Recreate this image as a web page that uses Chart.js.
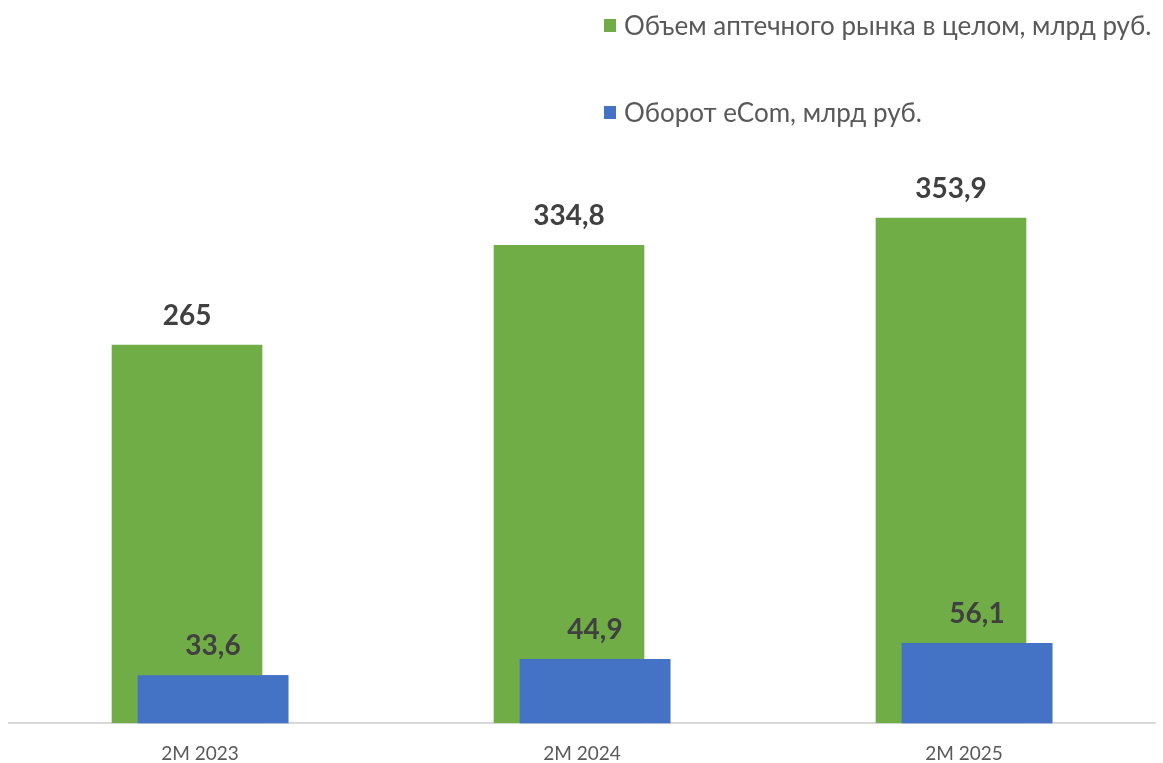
<!DOCTYPE html>
<html lang="ru">
<head>
<meta charset="utf-8">
<title>Аптечный рынок и eCom</title>
<script src="https://cdn.jsdelivr.net/npm/chart.js@4/dist/chart.umd.min.js"></script>
<style>
  html, body { margin: 0; padding: 0; background: #fff; }
  #wrap { position: relative; width: 1163px; height: 763px; }
  #legend { position: absolute; left: 604px; top: 8px; font-family: Lato, 'Open Sans', sans-serif; font-size: 26px; color: #595959; }
  .leg-item { display: flex; align-items: center; height: 34px; margin-bottom: 53px; white-space: nowrap; }
  .leg-box { width: 12px; height: 13px; margin-right: 8px; flex: none; }
</style>
</head>
<body>
<div id="wrap">
  <canvas id="chart" width="1163" height="763"></canvas>
  <div id="legend"></div>
</div>
<script>
const categories = ['2M 2023', '2M 2024', '2M 2025'];
const marketValues = [265, 334.8, 353.9];
const ecomValues = [33.6, 44.9, 56.1];
const seriesNames = ['Объем аптечного рынка в целом, млрд руб.', 'Оборот eCom, млрд руб.'];
const seriesColors = ['#70ad47', '#4472c4'];

const fmt = v => String(v).replace('.', ',');

// legend in two rows, top right
document.getElementById('legend').innerHTML = seriesNames.map((name, i) =>
  `<div class="leg-item"><span class="leg-box" style="background:${seriesColors[i]}"></span>${name}</div>`
).join('');

// eCom bars sit over the market bars: redraw them after the default pass
const ecomOnTop = {
  id: 'ecomOnTop',
  afterDatasetsDraw(chart) {
    const meta = chart.getDatasetMeta(1);
    if (meta.visible) meta.controller.draw();
  }
};

// bold value labels above each bar
const valueLabels = {
  id: 'valueLabels',
  afterDatasetsDraw(chart) {
    const ctx = chart.ctx;
    ctx.save();
    ctx.font = 'bold 28px Lato, "Open Sans", sans-serif';
    ctx.fillStyle = '#404040';
    ctx.textAlign = 'center';
    ctx.textBaseline = 'middle';
    chart.data.datasets.forEach((ds, di) => {
      chart.getDatasetMeta(di).data.forEach((bar, i) => {
        ctx.fillText(fmt(ds.data[i]), bar.x, bar.y - 29);
      });
    });
    ctx.restore();
  }
};

new Chart(document.getElementById('chart'), {
  type: 'bar',
  data: {
    labels: categories,
    datasets: [
      { label: seriesNames[0], data: marketValues, backgroundColor: seriesColors[0] },
      { label: seriesNames[1], data: ecomValues, backgroundColor: seriesColors[1] }
    ]
  },
  options: {
    responsive: false,
    animation: false,
    categoryPercentage: 0.136,
    barPercentage: 5.8,
    layout: { padding: { top: 152, left: 9, right: 8, bottom: -13 } },
    plugins: {
      legend: { display: false },
      tooltip: { enabled: false }
    },
    scales: {
      x: {
        grid: { display: false },
        border: { display: true, color: '#d9d9d9', width: 2 },
        ticks: { color: '#595959', font: { family: 'Lato, "Open Sans", sans-serif', size: 19 }, padding: 11 }
      },
      y: {
        display: false,
        min: 0,
        max: 400
      }
    }
  },
  plugins: [ecomOnTop, valueLabels]
});
</script>
</body>
</html>
